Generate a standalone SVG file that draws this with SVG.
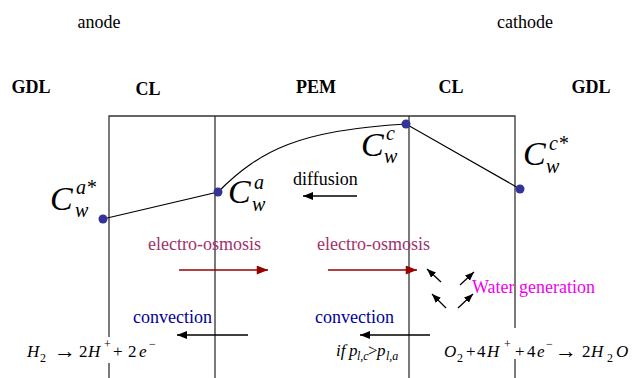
<svg xmlns="http://www.w3.org/2000/svg" width="643" height="378" viewBox="0 0 643 378">
<style>
text{font-family:"Liberation Serif","Times New Roman",serif;}
.lbl{font-size:18px;fill:#000;}
.hdr{font-size:18px;font-weight:bold;fill:#000;}
.C{font-size:34px;font-style:italic;fill:#000;}
.s{font-size:20px;font-style:italic;fill:#000;}
.eo{font-size:18px;fill:#a0336a;}
.cv{font-size:18px;fill:#000099;}
.wg{font-size:18px;fill:#ee00ee;}
.eq{font-size:17px;fill:#000;}
.it{font-style:italic;}
.sm{font-size:12px;}
.ar{font-size:22px;}
.wall{stroke:#333;stroke-width:1.3;fill:none;}
.prof{stroke:#000;stroke-width:1.2;fill:none;}
.dot{fill:#333399;}
.arr{stroke:#000;stroke-width:1.3;fill:none;}
.red{stroke:#990000;stroke-width:1.5;fill:none;}
</style>
<defs>
<marker id="ab" viewBox="0 0 10 8" markerWidth="11" markerHeight="8" refX="10" refY="4" orient="auto" markerUnits="userSpaceOnUse"><path d="M0,0 L10,4 L0,8 z" fill="#000"/></marker>
<marker id="ar" viewBox="0 0 10 8" markerWidth="13" markerHeight="9" refX="10" refY="4" orient="auto" markerUnits="userSpaceOnUse"><path d="M0,0 L10,4 L0,8 z" fill="#990000"/></marker>
<marker id="as" viewBox="0 0 10 8" markerWidth="9" markerHeight="8" refX="10" refY="4" orient="auto" markerUnits="userSpaceOnUse"><path d="M0,0 L10,4 L0,8 z" fill="#000"/></marker>
</defs>
<rect width="643" height="378" fill="#fff"/>

<g id="walls">
<path class="wall" d="M109,378 V116 H515 V378 M215,116 V378 M409,116 V378"/>
</g>

<g id="headers">
<text class="lbl" x="99" y="28" text-anchor="middle">anode</text>
<text class="lbl" x="525" y="28" text-anchor="middle">cathode</text>
<text class="hdr" x="31" y="93" text-anchor="middle">GDL</text>
<text class="hdr" x="148" y="95" text-anchor="middle">CL</text>
<text class="hdr" x="316" y="93" text-anchor="middle">PEM</text>
<text class="hdr" x="451" y="93" text-anchor="middle">CL</text>
<text class="hdr" x="591" y="93" text-anchor="middle">GDL</text>
</g>

<g id="profile">
<path class="prof" d="M103,219 L218,192 C260,150 300,130 406,124 L520,189"/>
</g>

<g id="node-Caw-star">
<circle class="dot" cx="103" cy="219" r="4.5"/>
<text class="C" x="50" y="210">C</text>
<text class="s" x="76" y="194">a*</text>
<text class="s" x="75" y="217">w</text>
</g>
<g id="node-Caw">
<circle class="dot" cx="218" cy="192" r="4.5"/>
<text class="C" x="228" y="203">C</text>
<text class="s" x="254" y="189">a</text>
<text class="s" x="252" y="211">w</text>
</g>
<g id="node-Ccw">
<circle class="dot" cx="406" cy="124" r="4.5"/>
<text class="C" x="361" y="156">C</text>
<text class="s" x="386" y="140">c</text>
<text class="s" x="384" y="163">w</text>
</g>
<g id="node-Ccw-star">
<circle class="dot" cx="520" cy="189" r="4.5"/>
<text class="C" x="523" y="165">C</text>
<text class="s" x="549" y="150">c*</text>
<text class="s" x="546" y="173">w</text>
</g>

<g id="connectors">
<line class="arr" x1="357" y1="196" x2="303" y2="196" marker-end="url(#ab)"/>
<line class="red" x1="179" y1="270" x2="268" y2="270" marker-end="url(#ar)"/>
<line class="red" x1="328" y1="270" x2="417" y2="270" marker-end="url(#ar)"/>
<line class="arr" x1="248" y1="335" x2="177" y2="335" marker-end="url(#ab)"/>
<line class="arr" x1="430" y1="335" x2="360" y2="335" marker-end="url(#ab)"/>
<line class="arr" x1="441" y1="282" x2="427" y2="269" marker-end="url(#as)"/>
<line class="arr" x1="460" y1="285" x2="474" y2="272" marker-end="url(#as)"/>
<line class="arr" x1="446" y1="308" x2="432" y2="294" marker-end="url(#as)"/>
<line class="arr" x1="458" y1="308" x2="473" y2="294" marker-end="url(#as)"/>
</g>

<g id="labels">
<text class="lbl" x="293" y="185">diffusion</text>
<text class="eo" x="148" y="250">electro-osmosis</text>
<text class="eo" x="317" y="250">electro-osmosis</text>
<text class="wg" x="472" y="293">Water generation</text>
<text class="cv" x="133" y="323">convection</text>
<text class="cv" x="315" y="323">convection</text>
</g>

<g id="eq-anode">
<rect x="20" y="337" width="146" height="26" fill="#fff"/>
<text class="eq"><tspan class="it" x="27" y="357">H</tspan><tspan class="sm" x="40" y="362">2</tspan><tspan class="ar" x="54" y="358">→</tspan><tspan x="79" y="357">2</tspan><tspan class="it" x="88" y="357">H</tspan><tspan class="sm" x="104" y="348">+</tspan><tspan x="113" y="357">+</tspan><tspan x="128" y="357">2</tspan><tspan class="it" x="139" y="357">e</tspan><tspan class="sm" x="149" y="348">−</tspan></text>
</g>

<g id="eq-condition">
<text class="eq"><tspan class="it" x="336" y="356">if</tspan><tspan class="it" x="349" y="356">p</tspan><tspan class="it sm" x="357" y="360">l,c</tspan><tspan x="368" y="356">&gt;</tspan><tspan class="it" x="377" y="356">p</tspan><tspan class="it sm" x="386" y="360">l,a</tspan></text>
</g>

<g id="eq-cathode">
<rect x="440" y="328" width="203" height="31" fill="#fff"/>
<text class="eq"><tspan class="it" x="444" y="357">O</tspan><tspan class="sm" x="457" y="362">2</tspan><tspan x="466" y="357">+</tspan><tspan x="477" y="357">4</tspan><tspan class="it" x="487" y="357">H</tspan><tspan class="sm" x="504" y="348">+</tspan><tspan x="515" y="357">+</tspan><tspan x="527" y="357">4</tspan><tspan class="it" x="537" y="357">e</tspan><tspan class="sm" x="546" y="348">−</tspan><tspan class="ar" x="555" y="358">→</tspan><tspan x="582" y="357">2</tspan><tspan class="it" x="591" y="357">H</tspan><tspan class="sm" x="607" y="362">2</tspan><tspan class="it" x="616" y="357">O</tspan></text>
</g>
</svg>
